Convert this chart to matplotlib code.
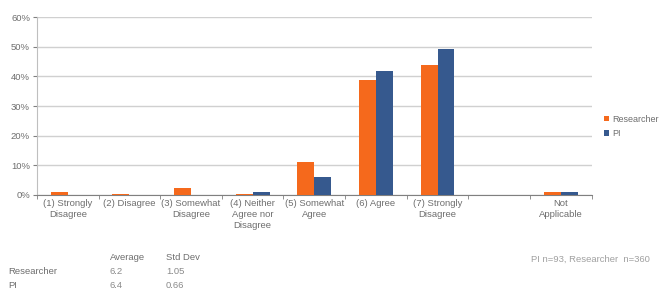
import numpy as np
import matplotlib.pyplot as plt

plt.rcParams['font.family'] = ['Liberation Sans', 'DejaVu Sans']

categories = ["(1) Strongly\nDisagree", "(2) Disagree", "(3) Somewhat\nDisagree",
              "(4) Neither\nAgree nor\nDisagree", "(5) Somewhat\nAgree", "(6) Agree",
              "(7) Strongly\nDisagree", "", "Not\nApplicable"]
researcher = [0.9, 0.3, 2.2, 0.5, 11.2, 38.7, 44.0, 0.0, 1.0]
pi = [0.0, 0.0, 0.0, 1.0, 6.1, 41.8, 49.4, 0.0, 1.0]
yticks = [0, 10, 20, 30, 40, 50, 60]

stats_rows = ["Researcher", "PI"]
stats_avg = ["6.2", "6.4"]
stats_sd = ["1.05", "0.66"]
note = "PI n=93, Researcher  n=360"

orange = '#F5691C'
blue = '#36598E'
grey = '#808080'
text_grey = '#6E6E6E'
fs = 6.8

fig = plt.figure(figsize=(6.65, 2.95), dpi=100)
ax = fig.add_axes([0.0556, 0.339, 0.834, 0.603])

x = np.arange(len(categories))
w = 0.275
ax.bar(x - w / 2, researcher, w, color=orange, label='Researcher', zorder=3)
ax.bar(x + w / 2, pi, w, color=blue, label='PI', zorder=3)

ax.set_xlim(-0.5, len(categories) - 0.5)
ax.set_ylim(0, 60)
ax.set_yticks(yticks)
ax.set_yticklabels([f"{v}%" for v in yticks], fontsize=fs, color=text_grey)
ax.yaxis.grid(True, color='#D0D0D0', linewidth=1.0, zorder=0)
ax.tick_params(axis='y', length=3, color=grey, pad=2)

ax.set_xticks(x)
ax.set_xticklabels(categories, fontsize=fs, color=text_grey, linespacing=1.25)
ax.tick_params(axis='x', length=0, pad=3)
ax.set_xticks(np.arange(len(categories) + 1) - 0.5, minor=True)
ax.tick_params(axis='x', which='minor', length=3, color=grey, direction='out')

for s in ['top', 'right']:
    ax.spines[s].set_visible(False)
ax.spines['left'].set_color('#BFBFBF')
ax.spines['bottom'].set_color(grey)

leg = fig.legend(loc='upper left', bbox_to_anchor=(0.9, 0.63), frameon=False,
                 fontsize=6.5, handlelength=0.6, handleheight=0.6,
                 handletextpad=0.3, labelspacing=0.6, borderaxespad=0.2)
for t in leg.get_texts():
    t.set_color(text_grey)

# stats table below the chart
fig.text(110 / 665, 1 - 258 / 295, "Average", fontsize=fs, color=text_grey, va='center')
fig.text(166 / 665, 1 - 258 / 295, "Std Dev", fontsize=fs, color=text_grey, va='center')
for i, name in enumerate(stats_rows):
    yy = 1 - (272 + i * 14) / 295
    fig.text(8 / 665, yy, name, fontsize=fs, color=text_grey, va='center')
    fig.text(110 / 665, yy, stats_avg[i], fontsize=fs, color='#8A8A8A', va='center')
    fig.text(166 / 665, yy, stats_sd[i], fontsize=fs, color='#8A8A8A', va='center')

fig.text(650 / 665, 1 - 259 / 295, note, fontsize=fs, color='#A0A0A0',
         va='center', ha='right')

fig.savefig('out.png', dpi=100)
